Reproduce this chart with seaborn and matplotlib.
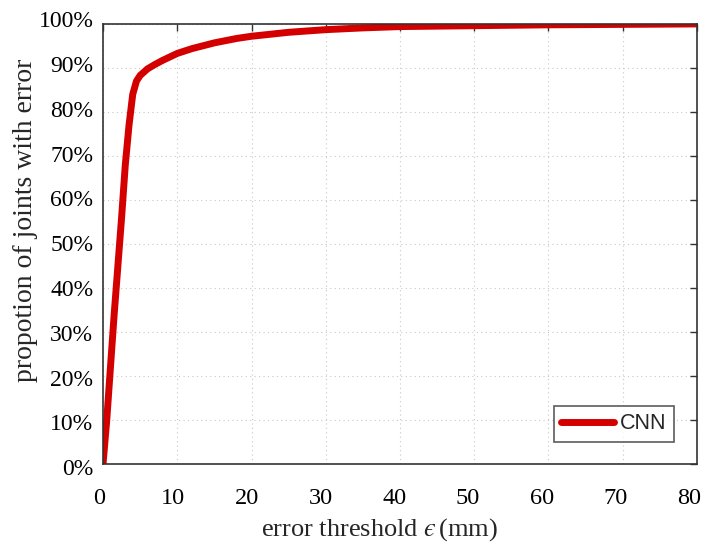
import matplotlib
matplotlib.use("Agg")
import matplotlib.pyplot as plt
import matplotlib.transforms as mtransforms
import seaborn as sns
import pandas as pd
from matplotlib.ticker import FuncFormatter

# Cumulative proportion of joints whose error is below each threshold
threshold_mm = [0, 0.5, 1.0, 1.5, 2.0, 2.5, 3.0, 3.5, 4.0, 4.5, 5.0, 6.0, 7.0, 8.0,
                10, 12, 15, 18, 20, 25, 30, 35, 40, 50, 60, 70, 80]
proportion_pct = [0, 10, 22, 34, 45, 56, 68, 77, 84, 87, 88.3, 89.8, 90.8, 91.7,
                  93.3, 94.4, 95.7, 96.7, 97.2, 98.1, 98.7, 99.1, 99.4, 99.6, 99.8, 99.9, 100]
series_name = "CNN"

x_ticks = list(range(0, 81, 10))
y_ticks = list(range(0, 101, 10))

df = pd.DataFrame({"threshold": threshold_mm, "proportion": proportion_pct,
                   "model": series_name})

sns.set_style("white")
plt.rcParams["font.family"] = ["Liberation Serif", "DejaVu Serif"]
plt.rcParams["mathtext.fontset"] = "stix"

fig = plt.figure(figsize=(7.17, 5.44), dpi=100)
ax = fig.add_axes([0.1437, 0.147, 0.8283, 0.809])

sns.lineplot(data=df, x="threshold", y="proportion", hue="model",
             palette=["#d40000"], linewidth=5, ax=ax)

ax.set_xlim(0, 80)
ax.set_ylim(0, 100)

ax.grid(True, color="#c8c8c8", linestyle=(0, (1, 3)), linewidth=0.8)
ax.tick_params(direction="in", length=5, width=1.0, color="#333333",
               top=True, right=True, labelcolor="black")
ax.tick_params(axis="x", labelsize=17.5, pad=17)
ax.tick_params(axis="y", labelsize=17, pad=7)
ax.set_xticks(x_ticks)
ax.set_yticks(y_ticks)
ax.yaxis.set_major_formatter(FuncFormatter(lambda v, _: f"{int(v)}%"))

# tick labels sit on a slightly wider scale than the tick marks
for tick, v in zip(ax.xaxis.get_major_ticks(), x_ticks):
    dx = -(4 + 3.5 * v / 80) / 100
    tick.label1.set_transform(tick.label1.get_transform() +
                              mtransforms.ScaledTranslation(dx, 0, fig.dpi_scale_trans))
for tick, v in zip(ax.yaxis.get_major_ticks(), y_ticks):
    dy = -(3 - 7.5 * v / 100) / 100
    tick.label1.set_transform(tick.label1.get_transform() +
                              mtransforms.ScaledTranslation(0, dy, fig.dpi_scale_trans))

for s in ax.spines.values():
    s.set_color("#333333")
    s.set_linewidth(1.2)

ax.set_xlabel("error threshold $\u03f5\\,$(mm)", fontsize=19)
ax.set_ylabel("propotion of joints with error", fontsize=20)
ax.xaxis.set_label_coords(0.466, -0.118)
ax.yaxis.set_label_coords(-0.109, 0.554)

leg = ax.legend(loc="lower right", bbox_to_anchor=(0.961, 0.05), borderaxespad=0,
                frameon=True, fancybox=False,
                prop={"family": ["Liberation Sans", "DejaVu Sans"], "size": 15.5},
                handlelength=2.45, borderpad=0.35, handletextpad=0.27)
leg.get_frame().set_edgecolor("#333333")
leg.get_frame().set_linewidth(1.2)
for h in leg.get_lines():
    h.set_linewidth(5)

fig.savefig("out.png", dpi=100)
